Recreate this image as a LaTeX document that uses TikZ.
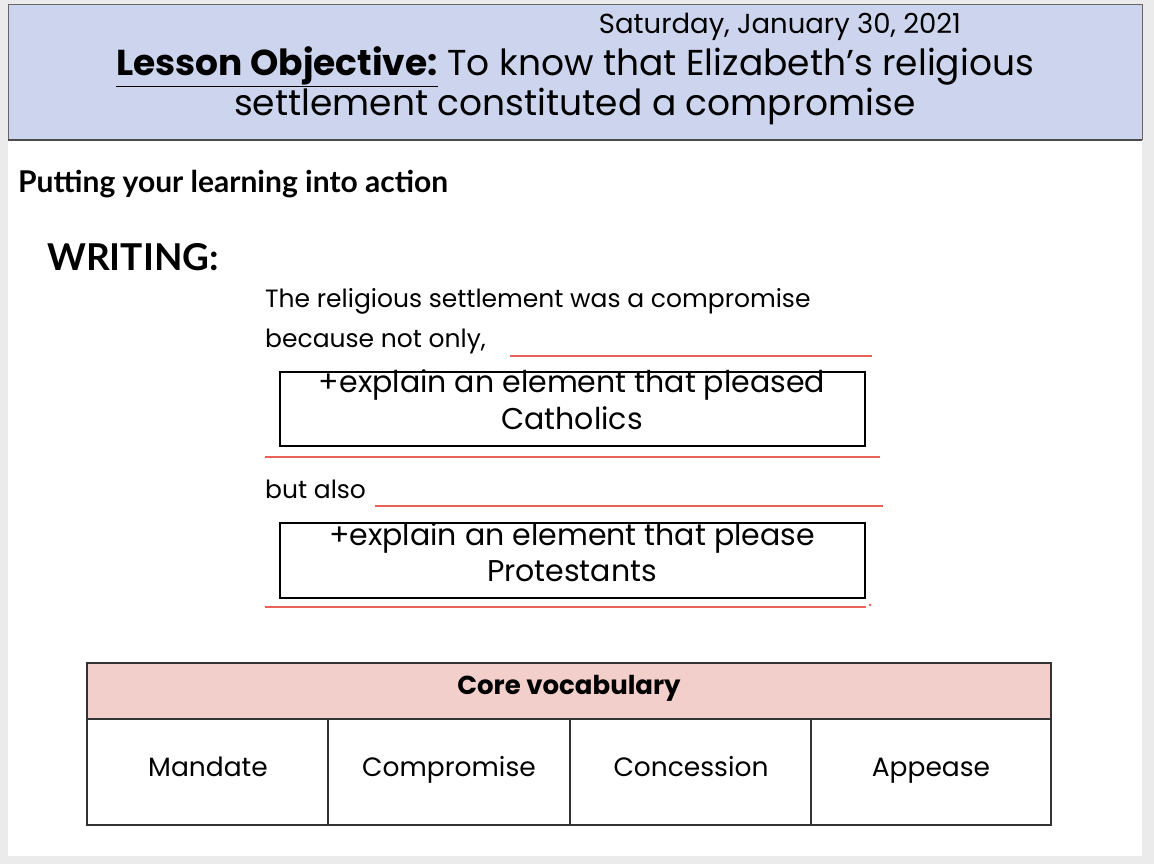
\documentclass[tikz,border=0pt]{standalone}
\usepackage{fontspec}
\setmainfont{Poppins}
\newfontfamily\boldf{Lato}
\definecolor{hdr}{HTML}{CCD5ED}
\definecolor{pinkh}{HTML}{F2CFCB}
\definecolor{redl}{HTML}{E8625A}
\definecolor{bg}{HTML}{EBEBEB}
\begin{document}
\begin{tikzpicture}[x=1pt,y=-1pt,
  txt/.style={inner sep=0pt,text height=0.72em,text depth=0.2em},
  body/.style={txt,font=\fontsize{25}{28}\selectfont},
  redline/.style={draw=redl,line width=1.4pt},
  expbox/.style={draw=black,line width=2pt},
  boxt/.style={txt,font=\fontsize{30}{34}\selectfont},
  cell/.style={txt,font=\fontsize{26.5}{30}\selectfont}]
\fill[bg] (0,0) rectangle (1154,864);
\useasboundingbox (0,0) rectangle (1154,864);
\fill[white] (8,140) rectangle (1142,856);
\filldraw[fill=hdr,draw=gray!80!black,line width=1pt] (8,5) rectangle (1142,140);
\draw[line width=2.5pt,draw=black!70] (8,140) -- (1142,140);
\node[txt,font=\fontsize{27.5}{30}\selectfont] (date) at (780,31) {Saturday, January 30, 2021};
\node[txt,font=\fontsize{36}{40}\selectfont] (obj) at (575,73) {\underline{\textbf{Lesson Objective:}} To know that Elizabeth’s religious};
\node[txt,font=\fontsize{36}{40}\selectfont] (obj2) at (575,113) {settlement constituted a compromise};
\node[txt,anchor=west,font=\boldf\bfseries\fontsize{30}{34}\selectfont] (put) at (18,190) {Putting your learning into action};
\node[txt,anchor=west,font=\boldf\bfseries\fontsize{37}{40}\selectfont] (wr) at (47,268) {WRITING:};
\node[body,anchor=west] (t1) at (265,305) {The religious settlement was a compromise};
\node[body,anchor=west] (t2) at (265,345) {because not only,};
\draw[redline] (510,356) -- (872,356);
\draw[expbox] (280,372) rectangle (865,446);
\node[boxt] (b1a) at (572,390) {+explain an element that pleased};
\node[boxt] (b1b) at (572,427) {Catholics};
\draw[redline] (265,457) -- (880,457);
\node[body,anchor=west] (t3) at (265,496) {but also};
\draw[redline] (375,506) -- (883,506);
\draw[expbox] (280,523) rectangle (865,598);
\node[boxt] (b2a) at (572,543) {+explain an element that please};
\node[boxt] (b2b) at (572,579) {Protestants};
\draw[redline] (265,607) -- (866,607);
\fill[redl] (870,605) circle (1.3);
\filldraw[fill=pinkh,draw=black!80,line width=1.2pt] (87,663) rectangle (1051,719);
\draw[draw=black!80,line width=1.2pt] (87,719) rectangle (1051,825);
\foreach \x in {328,570,811} \draw[black!80,line width=1.2pt] (\x,719) -- (\x,825);
\node[txt,font=\bfseries\fontsize{26}{30}\selectfont] (cv) at (569,692) {Core vocabulary};
\node[cell] (c1) at (208,774) {Mandate};
\node[cell] (c2) at (449,774) {Compromise};
\node[cell] (c3) at (691,774) {Concession};
\node[cell] (c4) at (931,774) {Appease};
\end{tikzpicture}
\end{document}
